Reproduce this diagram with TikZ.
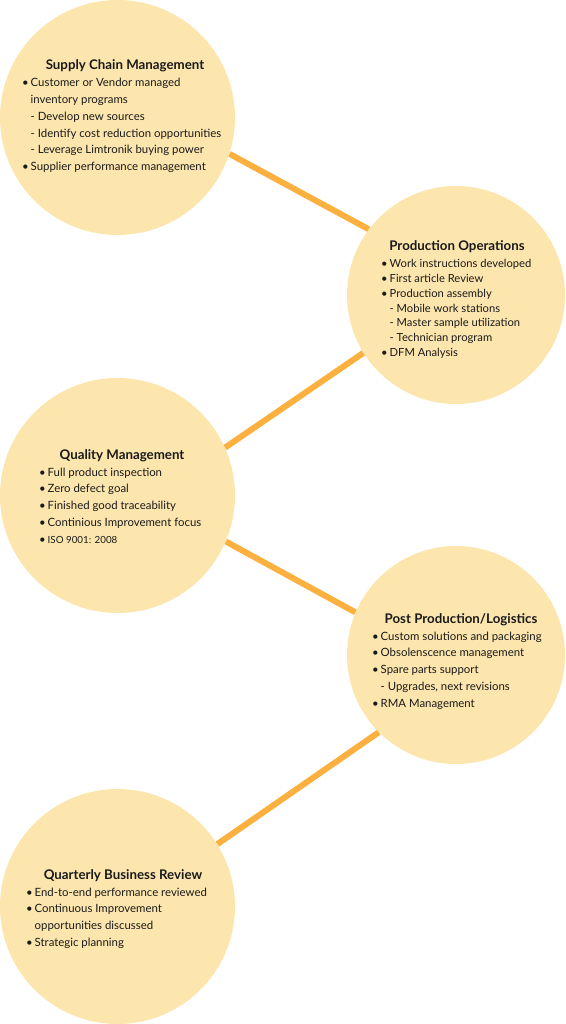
\documentclass[tikz,border=0pt]{standalone}
\usepackage{fontspec}
\setmainfont{Lato}
\usetikzlibrary{backgrounds}
\definecolor{circfill}{HTML}{FDE6AE}
\definecolor{linkcol}{HTML}{FBB040}
\definecolor{txt}{HTML}{1A1A1A}
\tikzset{
  stage/.style={circle, fill=circfill, draw=none, inner sep=0pt},
  big/.style={stage, minimum size=235pt},
  small/.style={stage, minimum size=218pt},
  link/.style={draw=linkcol, line width=6pt},
  title/.style={font=\fontsize{13.3}{15}\selectfont\bfseries, text=txt, inner sep=0pt, anchor=base},
  body/.style={font=\fontsize{11.4}{16.7}\selectfont, text=txt, align=left, inner sep=0pt, anchor=base west},
  bodysm/.style={font=\fontsize{11.2}{14.8}\selectfont, text=txt, align=left, inner sep=0pt, anchor=base west},
}
\newcommand{\bl}{\makebox[8.5pt][l]{•}}
\newcommand{\sk}{\hspace*{8.5pt}}
\begin{document}
\begin{tikzpicture}[x=1pt,y=-1pt]
\useasboundingbox (0,0) rectangle (565,1024);
\node[big] (c1) at (117.5,117.5) {};
\node[small] (c2) at (456,295) {};
\node[big] (c3) at (117.5,495.5) {};
\node[small] (c4) at (456,655) {};
\node[big] (c5) at (117.5,906.5) {};
\begin{scope}[on background layer]
\draw[link] (c1.-18.7) -- (c2.143.6);
\draw[link] (c2.212.5) -- (c3.24.7);
\draw[link] (c3.-23) -- (c4.157.4);
\draw[link] (c4.225.4) -- (c5.32.7);
\end{scope}
% Supply Chain (anchor = baseline of last line)
\node[title] (t1) at (125,70) {Supply Chain Management};
\node[body] (b1) at (22,170.5) {\bl Customer or Vendor managed\\
\sk inventory programs\\
\sk - Develop new sources\\
\sk - Identify cost reduction opportunities\\
\sk - Leverage Limtronik buying power\\
\bl Supplier performance management};
% Production Operations
\node[title] (t2) at (457,250.5) {Production Operations};
\node[bodysm] (b2) at (381,356.5) {\bl Work instructions developed\\
\bl First article Review\\
\bl Production assembly\\
\sk - Mobile work stations\\
\sk - Master sample utilization\\
\sk - Technician program\\
\bl DFM Analysis};
% Quality
\node[title] (t3) at (122,459.5) {Quality Management};
\node[body] (b3) at (39,543) {\bl Full product inspection\\
\bl Zero defect goal\\
\bl Finished good traceability\\
\bl Continious Improvement focus\\
\bl {\fontsize{9.8}{16.7}\selectfont ISO 9001: 2008}};
% Post Production
\node[title] (t4) at (461,623.5) {Post Production/Logistics};
\node[body] (b4) at (372,707) {\bl Custom solutions and packaging\\
\bl Obsolenscence management\\
\bl Spare parts support\\
\sk - Upgrades, next revisions\\
\bl RMA Management};
% Quarterly
\node[title] (t5) at (123,879.5) {Quarterly Business Review};
\node[body] (b5) at (26,946.3) {\bl End-to-end performance reviewed\\
\bl Continuous Improvement\\
\sk opportunities discussed\\
\bl Strategic planning};
\end{tikzpicture}
\end{document}
